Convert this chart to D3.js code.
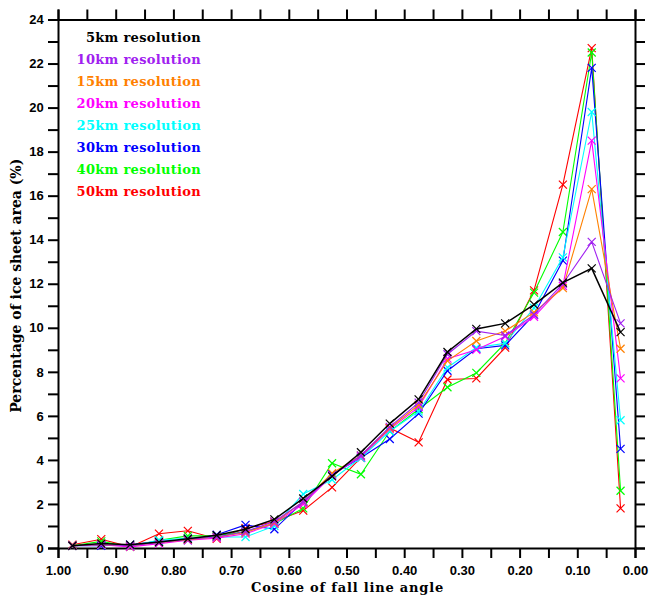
<!DOCTYPE html>
<html>
<head>
<meta charset="utf-8">
<script src="https://cdn.jsdelivr.net/npm/d3@7"></script>
<style>
  body { margin: 0; background: #fff; }
  svg { display: block; }
</style>
</head>
<body>
<svg id="chart" width="649" height="596"></svg>
<script>
// bin centres of the cosine of fall line angle
const binCentres = [0.975, 0.925, 0.875, 0.825, 0.775, 0.725, 0.675, 0.625, 0.575, 0.525,
                    0.475, 0.425, 0.375, 0.325, 0.275, 0.225, 0.175, 0.125, 0.075, 0.025];

const res5km  = [0.10, 0.20, 0.15, 0.27, 0.42, 0.58, 0.85, 1.30, 2.25, 3.25, 4.35, 5.65, 6.75, 8.90, 9.95, 10.20, 11.05, 12.05, 12.70, 9.80];
const res10km = [0.10, 0.15, 0.10, 0.25, 0.40, 0.50, 0.75, 1.20, 2.10, 3.30, 4.20, 5.50, 6.60, 8.80, 9.85, 9.65, 10.60, 12.00, 13.90, 10.20];
const res15km = [0.10, 0.15, 0.10, 0.25, 0.38, 0.50, 0.70, 1.15, 2.10, 3.40, 4.20, 5.45, 6.50, 8.50, 9.40, 9.85, 10.70, 11.80, 16.30, 9.05];
const res20km = [0.10, 0.15, 0.05, 0.20, 0.35, 0.45, 0.65, 1.10, 2.00, 3.30, 4.15, 5.40, 6.40, 8.60, 9.00, 9.60, 10.50, 11.90, 18.50, 7.70];
const res25km = [0.10, 0.15, 0.10, 0.35, 0.45, 0.50, 0.50, 1.00, 2.45, 3.10, 4.10, 5.30, 6.20, 8.20, 9.10, 9.30, 10.90, 13.20, 19.80, 5.80];
const res30km = [0.10, 0.10, 0.15, 0.30, 0.35, 0.60, 1.05, 0.85, 2.10, 3.35, 4.10, 4.95, 6.10, 8.05, 9.05, 9.20, 10.60, 13.05, 21.80, 4.50];
const res40km = [0.10, 0.30, 0.05, 0.35, 0.55, 0.55, 0.75, 1.10, 1.80, 3.85, 3.35, 5.30, 6.30, 7.30, 7.95, 9.30, 11.60, 14.35, 22.50, 2.60];
const res50km = [0.15, 0.40, 0.05, 0.65, 0.78, 0.42, 0.90, 1.20, 1.70, 2.75, 4.10, 5.45, 4.80, 7.65, 7.70, 9.10, 11.70, 16.50, 22.70, 1.80];

const seriesNames  = ["5km resolution", "10km resolution", "15km resolution", "20km resolution",
                      "25km resolution", "30km resolution", "40km resolution", "50km resolution"];
const seriesValues = [res5km, res10km, res15km, res20km, res25km, res30km, res40km, res50km];
const seriesColors = ["#000000", "#a020f0", "#ff8000", "#ff00ff", "#00ffff", "#0000ff", "#00ff00", "#ff0000"];

const xTicks = [1.0, 0.9, 0.8, 0.7, 0.6, 0.5, 0.4, 0.3, 0.2, 0.1, 0.0];
const yTicks = [0, 2, 4, 6, 8, 10, 12, 14, 16, 18, 20, 22, 24];

const margin = {left: 58, right: 14, top: 19.5, bottom: 48};
const W = 649, H = 596;
const svg = d3.select("#chart");

const x = d3.scaleLinear().domain([1, 0]).range([margin.left, W - margin.right]);
const y = d3.scaleLinear().domain([0, 24]).range([H - margin.bottom, margin.top]);

const minorX = d3.range(0, 21).map(i => i * 0.05);
const minorY = d3.range(0, 25);

const tickFont = "'Liberation Sans', Arial, sans-serif";
const titleFont = "'DejaVu Serif', serif";

// axes
const axBottom = svg.append("g").attr("transform", `translate(0,${y(0)})`)
  .call(d3.axisBottom(x).tickValues(minorX).tickSize(10).tickFormat(d => {
    const r = Math.round(d * 100);
    return r % 10 === 0 ? d3.format(".2f")(d) : "";
  }));
const axTop = svg.append("g").attr("transform", `translate(0,${y(24)})`)
  .call(d3.axisTop(x).tickValues(minorX).tickSize(10).tickFormat(""));
const axLeft = svg.append("g").attr("transform", `translate(${x(1)},0)`)
  .call(d3.axisLeft(y).tickValues(minorY).tickSize(10).tickFormat(d => yTicks.includes(d) ? d : ""));
const axRight = svg.append("g").attr("transform", `translate(${x(0)},0)`)
  .call(d3.axisRight(y).tickValues(minorY).tickSize(10).tickFormat(""));

[axBottom, axTop, axLeft, axRight].forEach(g => {
  g.select(".domain").attr("stroke", "#000").attr("stroke-width", 2);
  g.selectAll(".tick line").attr("stroke", "#000").attr("stroke-width", 2);
  g.selectAll(".tick text").attr("fill", "#000")
    .style("font-family", tickFont).style("font-weight", "bold").style("font-size", "13px");
});
axBottom.selectAll(".tick text").attr("dy", "1.05em");
axLeft.selectAll(".tick text").attr("dx", "-0.1em");

// series, coarsest first so 5km ends on top
const line = d3.line().x((d, i) => x(binCentres[i])).y(d => y(d));
const order = d3.range(seriesValues.length).reverse();
order.forEach(k => {
  const vals = seriesValues[k];
  const col = seriesColors[k];
  svg.append("path").datum(vals)
    .attr("d", line)
    .attr("fill", "none")
    .attr("stroke", col)
    .attr("stroke-width", k === 0 ? 1.5 : 1.1);
  const m = 4;
  svg.append("g").selectAll("path.mark").data(vals).join("path")
    .attr("class", "mark")
    .attr("d", (d, i) => {
      const cx = x(binCentres[i]), cy = y(d);
      return `M${cx - m},${cy - m}L${cx + m},${cy + m}M${cx - m},${cy + m}L${cx + m},${cy - m}`;
    })
    .attr("stroke", col)
    .attr("stroke-width", 1.2);
});

// legend
const legend = svg.append("g");
seriesNames.forEach((name, k) => {
  legend.append("text")
    .attr("x", 201)
    .attr("y", 42 + k * 22)
    .attr("text-anchor", "end")
    .attr("fill", seriesColors[k])
    .style("font-family", titleFont)
    .style("font-weight", "bold")
    .style("font-size", "13px")
    .style("letter-spacing", "0.3px")
    .text(name);
});

// axis titles
svg.append("text")
  .attr("x", (x(1) + x(0)) / 2 + 1)
  .attr("y", 592)
  .attr("text-anchor", "middle")
  .style("font-family", titleFont)
  .style("font-weight", "bold")
  .style("font-size", "13px")
  .style("letter-spacing", "0.8px")
  .text("Cosine of fall line angle");

svg.append("text")
  .attr("transform", `translate(21,${(y(0) + y(24)) / 2 + 2}) rotate(-90)`)
  .attr("text-anchor", "middle")
  .style("font-family", titleFont)
  .style("font-weight", "bold")
  .style("font-size", "14px")
  .text("Percentage of ice sheet area (%)");
</script>
</body>
</html>
